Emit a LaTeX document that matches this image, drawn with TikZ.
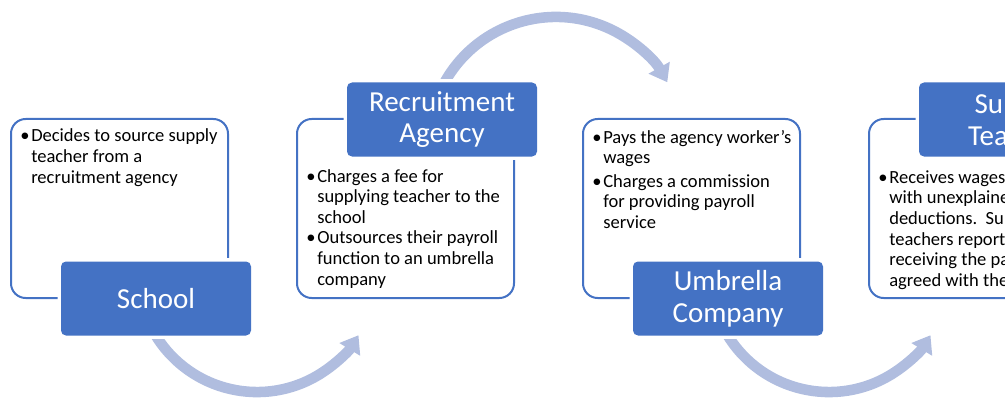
\documentclass[tikz,border=0pt]{standalone}
\usepackage{fontspec}
\setmainfont{Carlito}
\usetikzlibrary{arrows.meta}
\definecolor{accent}{HTML}{4472C4}
\definecolor{arrowc}{RGB}{176,189,223}
\newcommand\bodyfont{\fontsize{13.9pt}{15.5pt}\selectfont}
\newcommand\titlefont{\fontsize{21.75pt}{23.8pt}\selectfont}
\newcommand\bul[1]{\noindent\makebox[8.25pt][l]{\textbullet}\parbox[t]{170pt}{\raggedright #1}\par}
\newcommand\blist[1]{\parbox[t]{180pt}{\bodyfont #1}}
\newcommand\bgap{\vskip 4.5pt\relax}
\tikzset{
  panel/.style={rectangle, rounded corners=11pt, draw=accent, line width=1.5pt, fill=white,
    minimum width=162.75pt, minimum height=134.25pt, inner sep=0pt},
  titlebox/.style={rectangle, rounded corners=3.75pt, fill=accent,
    preaction={draw=white, line width=5pt},
    minimum width=142.5pt, minimum height=55.5pt, inner sep=0pt,
    text=white, font=\titlefont, align=center},
  bodytext/.style={anchor=base west, inner sep=0pt, text=black},
  flow/.style={draw=arrowc, line width=7.9pt, -{Triangle[width=17.5pt,length=12.5pt]}}
}
\begin{document}
\begin{tikzpicture}[x=0.75pt,y=-0.75pt]
\useasboundingbox (0,0) rectangle (1005,399);
\clip (0,0) rectangle (1005,399);
% arrows (under the boxes)
\coordinate (a1s) at (156.1,336.1);
\coordinate (a2s) at (443.4,84.6);
\coordinate (a3s) at (728.1,336.1);
\draw[flow] (a1s) arc[start angle=148, end angle=31.5, radius=119];
\draw[flow] (a2s) arc[start angle=208, end angle=330.8, radius=127.5];
\draw[flow] (a3s) arc[start angle=148, end angle=31.5, radius=119];
% panels
\node[panel] (p1) at (119.5,208.5) {};
\node[panel] (p2) at (405.5,208.5) {};
\node[panel] (p3) at (691.5,208.5) {};
\node[panel] (p4) at (977.5,208.5) {};
% title boxes
\node[titlebox] (t1) at (156,298.5) {School};
\node[titlebox] (t2) at (442,119.5) {Recruitment\\Agency};
\node[titlebox] (t3) at (728,298.5) {Umbrella\\Company};
\node[titlebox] (t4) at (1014,119.5) {Supply\\Teacher};
% body texts
\node[bodytext] (d1) at (20,142) {\blist{\bul{Decides to source supply\\teacher from a\\recruitment agency}}};
\node[bodytext] (d2) at (306,182) {\blist{\bul{Charges a fee for\\supplying teacher to the\\school}\bgap\bul{Outsources their payroll\\function to an umbrella\\company}}};
\node[bodytext] (d3) at (592,143) {\blist{\bul{Pays the agency worker's\\wages}\bgap\bul{Charges a commission\\for providing payroll\\service}}};
\node[bodytext] (d4) at (878,183) {\blist{\bul{Receives wages\\with unexplained\\deductions.\ \ Supply\\teachers report\\receiving the pay\\agreed with the}}};
\end{tikzpicture}
\end{document}
